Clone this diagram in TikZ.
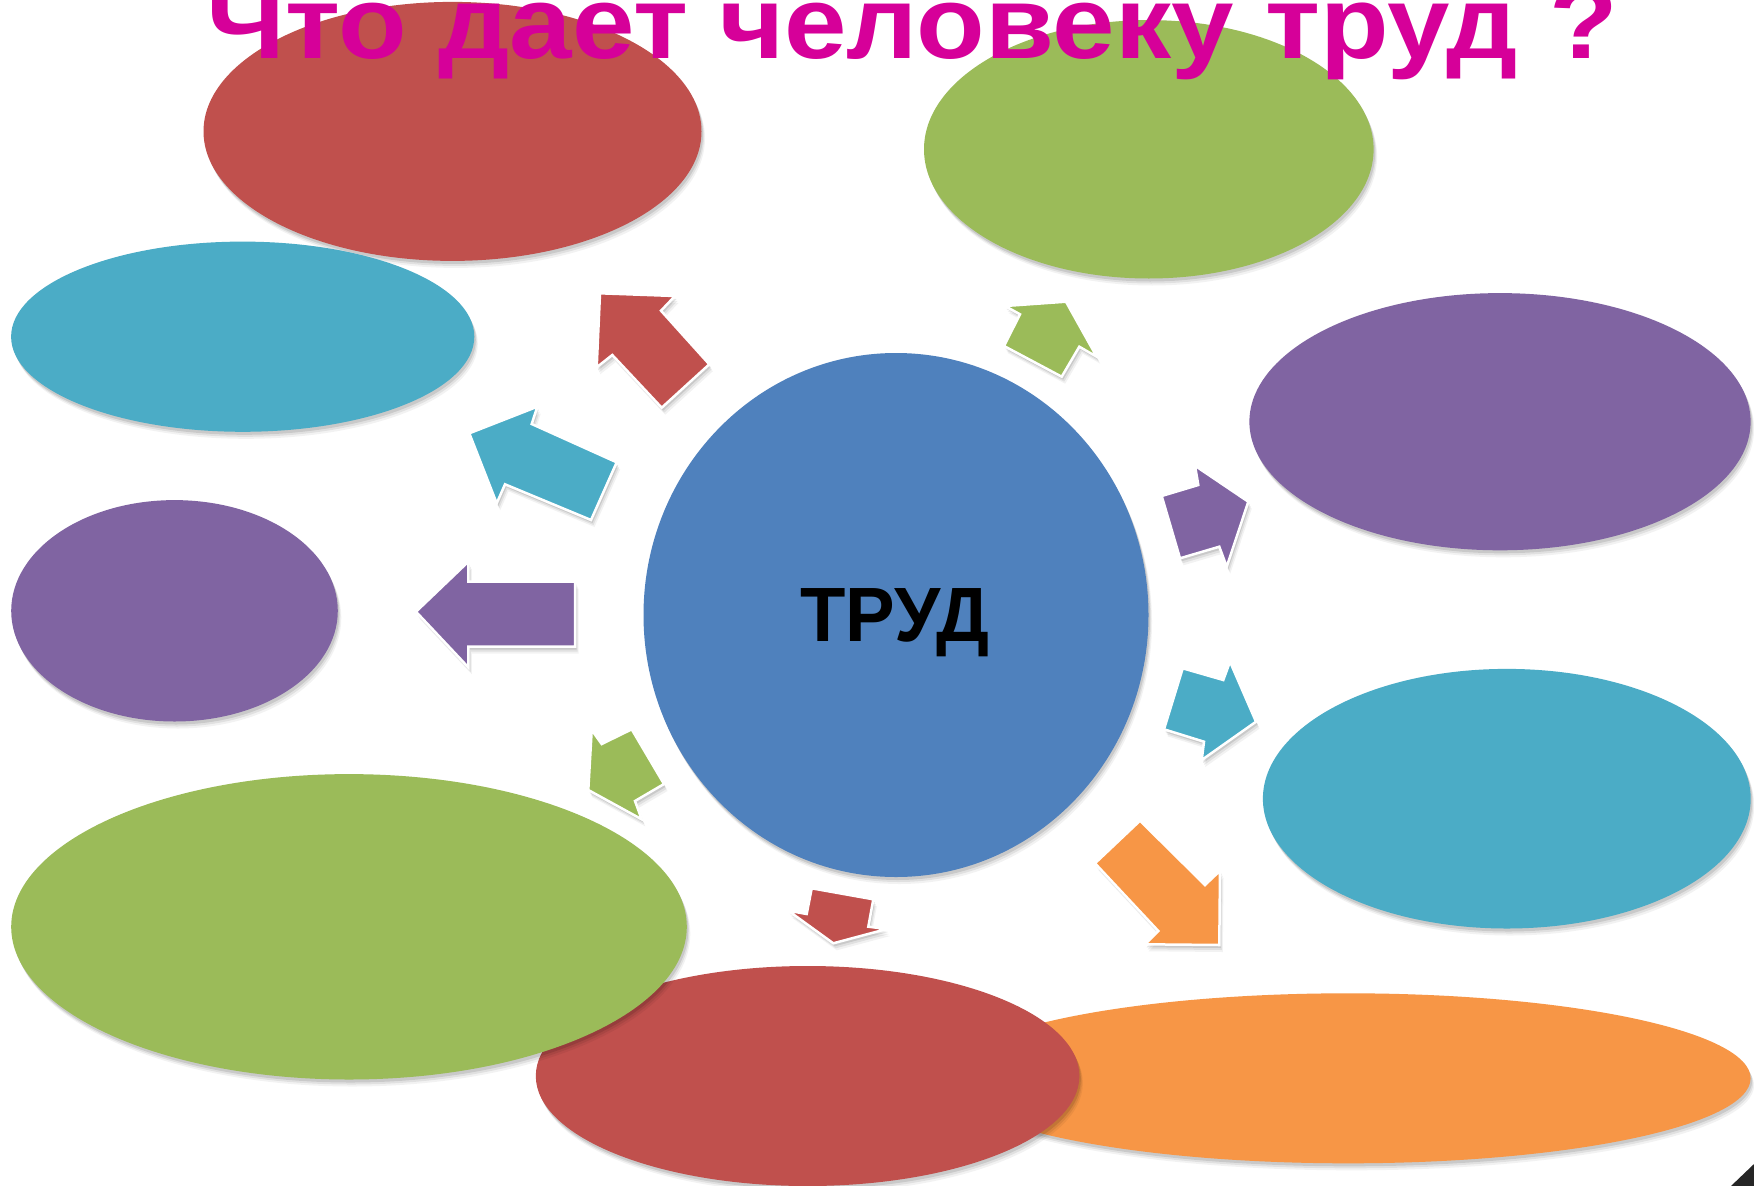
\documentclass[tikz,border=0pt]{standalone}
\usepackage{fontspec}
\setmainfont{Liberation Sans}
\usepackage{graphicx}
\usetikzlibrary{shapes.geometric}
\definecolor{cRed}{HTML}{C0504D}
\definecolor{cGreen}{HTML}{9BBB59}
\definecolor{cCyan}{HTML}{4BACC6}
\definecolor{cPurple}{HTML}{8064A2}
\definecolor{cOrange}{HTML}{F79646}
\definecolor{cBlue}{HTML}{4F81BD}
\definecolor{cTitle}{HTML}{D60099}
\tikzset{
  softshadow/.style={
    preaction={fill=black, fill opacity=0.10, transform canvas={shift={(1.5pt,-3pt)}}},
    preaction={fill=black, fill opacity=0.07, transform canvas={shift={(2.5pt,-5pt)}}},
    preaction={fill=black, fill opacity=0.05, transform canvas={shift={(3.5pt,-7pt)}}}},
  blob/.style={ellipse, inner sep=0pt, outer sep=0pt, draw=none, softshadow},
  blockarrow/.style={draw=white, line width=2.5pt, line join=miter, softshadow},
}
\begin{document}
\begin{tikzpicture}[x=1pt,y=-1pt]
\useasboundingbox (0,0) rectangle (1754,1186);
\clip (0,0) rectangle (1754,1186);
\fill[white] (0,0) rectangle (1754,1186);

% ellipses
\node[blob, fill=cRed, minimum width=498pt, minimum height=259pt] (e1) at (452.5,131.4) {};
\node[blob, fill=cGreen, minimum width=449.6pt, minimum height=258.4pt] (e2) at (1148.8,149.3) {};
\node[blob, fill=cCyan, minimum width=463.2pt, minimum height=190.2pt] (e3) at (242.7,336.7) {};
\node[blob, fill=cPurple, minimum width=501.2pt, minimum height=257.2pt] (e4) at (1500,421.7) {};
\node[blob, fill=cPurple, minimum width=326.6pt, minimum height=221.4pt] (e5) at (174.5,610.8) {};
\node[blob, fill=cCyan, minimum width=487.8pt, minimum height=259.6pt] (e6) at (1506.8,798.7) {};
\node[blob, fill=cOrange, minimum width=805.2pt, minimum height=170pt] (e9) at (1348,1078.3) {};
\node[blob, fill=cRed, minimum width=543.6pt, minimum height=220pt] (e8) at (807.6,1076) {};
\node[blob, fill=cGreen, minimum width=675.6pt, minimum height=305.4pt] (e7) at (349,926.8) {};

% centre
\node[blob, fill=cBlue, minimum width=505pt, minimum height=524pt] (c) at (896,615) {};
\node[anchor=base, font=\fontsize{77pt}{80pt}\selectfont\bfseries, text=black, inner sep=0pt] (trud) at (895,641) {\scalebox{0.965}[1]{ТРУД}};

% arrows
\fill[blockarrow, fill=cRed] (600,293.3) -- (675,296) -- (661,310.7) -- (709.3,364.3) -- (661.7,407.7) -- (612.3,355) -- (596.7,367.3) -- cycle;
\fill[blockarrow, fill=cCyan] (469.3,433.3) -- (537.3,406.7) -- (531.7,424) -- (616.7,462.3) -- (591,520) -- (505,484.3) -- (496.7,503.3) -- cycle;
\fill[blockarrow, fill=cPurple] (416,611.7) -- (468.3,561.7) -- (468.3,581.7) -- (575,581.7) -- (575,646.7) -- (468.3,646.7) -- (468.3,667.3) -- cycle;
\fill[blockarrow, fill=cGreen] (591.7,730) -- (601.7,744) -- (631.7,729.3) -- (664,784) -- (635,801) -- (641.7,819.3) -- (588.3,790) -- cycle;
\fill[blockarrow, fill=cRed] (811.7,888.3) -- (873.3,899.3) -- (868.3,926.7) -- (886.7,929) -- (833.3,943.3) -- (788.3,910.7) -- (806.7,914) -- cycle;
\fill[blockarrow, fill=cOrange] (1095,863.3) -- (1140,820.7) -- (1205,885) -- (1220,870.7) -- (1219.3,945) -- (1145,944.3) -- (1158.3,931) -- cycle;
\fill[blockarrow, fill=cCyan] (1182.7,668.3) -- (1223.3,680) -- (1230,661.7) -- (1256,721.7) -- (1201.7,760) -- (1204,741.7) -- (1164,729.3) -- cycle;
\fill[blockarrow, fill=cPurple] (1161.7,496) -- (1198.3,485) -- (1195,465.7) -- (1248.3,501.7) -- (1226.7,566.7) -- (1219.3,546.7) -- (1180,558.3) -- cycle;
\fill[blockarrow, fill=cGreen] (1005,306) -- (1066,301.7) -- (1096.7,356.7) -- (1079.3,346.7) -- (1061.7,376.7) -- (1004,346) -- (1020,314.3) -- cycle;

% title
\node[anchor=base west, inner sep=0pt, text=cTitle, font=\fontsize{103pt}{106pt}\selectfont\bfseries] (title) at (206,58) {\scalebox{1.09}[1]{Что дает человеку труд ?}};

% corner curl
\fill[black!85] (1731,1186) -- (1754,1164) -- (1754,1186) -- cycle;
\end{tikzpicture}
\end{document}
